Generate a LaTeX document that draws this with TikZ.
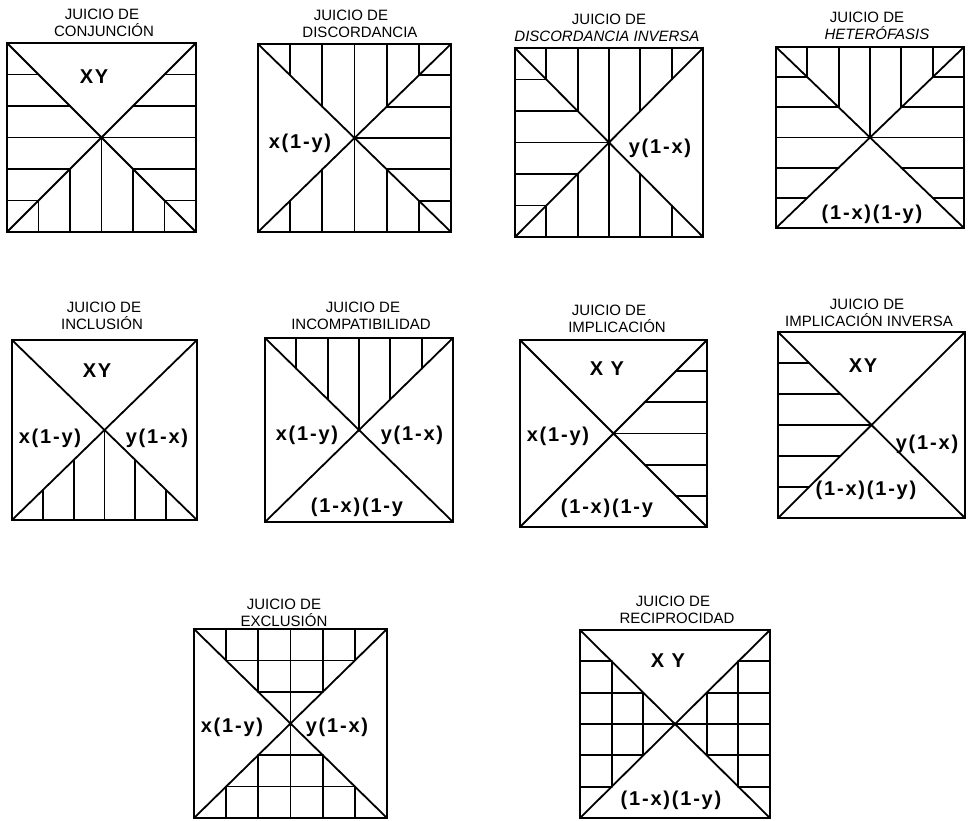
\documentclass[tikz,border=0pt]{standalone}
\usepackage{fontspec}
\setmainfont{Liberation Sans}
\newfontfamily\labfont[LetterSpace=9]{Liberation Sans}
\tikzset{
  frame/.style={line width=2.3pt, line join=miter},
  hl/.style={line width=1.8pt, line cap=round},
  ttl/.style={font=\fontsize{15}{15}\selectfont, anchor=base, inner sep=0pt},
  ttli/.style={ttl, font=\fontsize{15}{15}\selectfont\itshape},
  lbl/.style={font=\labfont\bfseries\fontsize{20}{20}\selectfont, inner sep=0pt},
}
\def\hatchT{\draw[hl] (1,6)--(1,5) (2,6)--(2,4) (3,6)--(3,3) (4,6)--(4,4) (5,6)--(5,5);}
\def\hatchB{\draw[hl] (1,0)--(1,1) (2,0)--(2,2) (3,0)--(3,3) (4,0)--(4,2) (5,0)--(5,1);}
\def\hatchL{\draw[hl] (0,1)--(1,1) (0,2)--(2,2) (0,3)--(3,3) (0,4)--(2,4) (0,5)--(1,5);}
\def\hatchR{\draw[hl] (6,1)--(5,1) (6,2)--(4,2) (6,3)--(3,3) (6,4)--(4,4) (6,5)--(5,5);}
\def\gridT{\hatchT \draw[hl] (1,5)--(5,5) (2,4)--(4,4);}
\def\gridB{\hatchB \draw[hl] (1,1)--(5,1) (2,2)--(4,2);}
\def\gridL{\hatchL \draw[hl] (1,1)--(1,5) (2,2)--(2,4);}
\def\gridR{\hatchR \draw[hl] (5,1)--(5,5) (4,2)--(4,4);}
\newcommand\juicsq[5]{%
  \pgfmathsetmacro\jsqw{(#3-#1)/6}%
  \pgfmathsetmacro\jsqh{(#4-#2)/6}%
  \begin{scope}[shift={(#1,#4)}, x=\jsqw pt, y=\jsqh pt]
    #5
    \draw[hl] (0,0)--(6,6) (0,6)--(6,0);
    \draw[frame] (0,0) rectangle (6,6);
  \end{scope}}
\begin{document}
\begin{tikzpicture}[x=1pt,y=-1pt]
\useasboundingbox[fill=white] (0,0) rectangle (968,820);
% Row 1
\juicsq{7}{43}{196}{232}{\hatchL\hatchR\hatchB}
\node[ttl] (t1a) at (102,19) {JUICIO DE};
\node[ttl] (t1b) at (104,36) {CONJUNCIÓN};
\node[lbl] (l1a) at (94,77) {XY};

\juicsq{258}{44}{451}{232}{\hatchT\hatchR\hatchB}
\node[ttl] (t2a) at (351,20) {JUICIO DE};
\node[ttl] (t2b) at (360,37) {DISCORDANCIA};
\node[lbl] (l2a) at (300,143) {x(1-y)};

\juicsq{515}{48}{703}{237}{\hatchT\hatchL\hatchB}
\node[ttl] (t3a) at (609,24) {JUICIO DE};
\node[ttli] (t3b) at (607,41) {DISCORDANCIA INVERSA};
\node[lbl] (l3a) at (660,148) {y(1-x)};

\juicsq{776}{47}{964}{228}{\hatchT\hatchL\hatchR}
\node[ttl] (t4a) at (867,22) {JUICIO DE};
\node[ttli] (t4b) at (877,39) {HETERÓFASIS};
\node[lbl] (l4a) at (872,214) {(1-x)(1-y)};

% Row 2
\juicsq{12}{340}{197}{520}{\hatchB}
\node[ttl] (t5a) at (104,312) {JUICIO DE};
\node[ttl] (t5b) at (102,329) {INCLUSIÓN};
\node[lbl] (l5a) at (97,371) {XY};
\node[lbl] (l5b) at (50,438) {x(1-y)};
\node[lbl] (l5c) at (157,438) {y(1-x)};

\juicsq{265}{338}{453}{522}{\hatchT}
\node[ttl] (t6a) at (363,312) {JUICIO DE};
\node[ttl] (t6b) at (361,329) {INCOMPATIBILIDAD};
\node[lbl] (l6a) at (307,435) {x(1-y)};
\node[lbl] (l6b) at (412,435) {y(1-x)};
\node[lbl] (l6c) at (357,507) {(1-x)(1-y};

\juicsq{520}{340}{707}{527}{\hatchR}
\node[ttl] (t7a) at (609,315) {JUICIO DE};
\node[ttl] (t7b) at (617,332) {IMPLICACIÓN};
\node[lbl] (l7a) at (607,369) {X Y};
\node[lbl] (l7b) at (558,436) {x(1-y)};
\node[lbl] (l7c) at (607,508) {(1-x)(1-y};

\juicsq{778}{332}{965}{518}{\hatchL}
\node[ttl] (t8a) at (867,309) {JUICIO DE};
\node[ttl] (t8b) at (869,326) {IMPLICACIÓN INVERSA};
\node[lbl] (l8a) at (863,366) {XY};
\node[lbl] (l8b) at (927,444) {y(1-x)};
\node[lbl] (l8c) at (866,490) {(1-x)(1-y)};

% Row 3
\juicsq{194}{629}{387}{818}{\gridT\gridB}
\node[ttl] (t9a) at (284,609) {JUICIO DE};
\node[ttl] (t9b) at (284,626) {EXCLUSIÓN};
\node[lbl] (l9a) at (232,727) {x(1-y)};
\node[lbl] (l9b) at (337,727) {y(1-x)};

\juicsq{580}{630}{770}{818}{\gridL\gridR}
\node[ttl] (t10a) at (673,606) {JUICIO DE};
\node[ttl] (t10b) at (677,623) {RECIPROCIDAD};
\node[lbl] (l10a) at (668,661) {X Y};
\node[lbl] (l10b) at (671,800) {(1-x)(1-y)};
\end{tikzpicture}
\end{document}
